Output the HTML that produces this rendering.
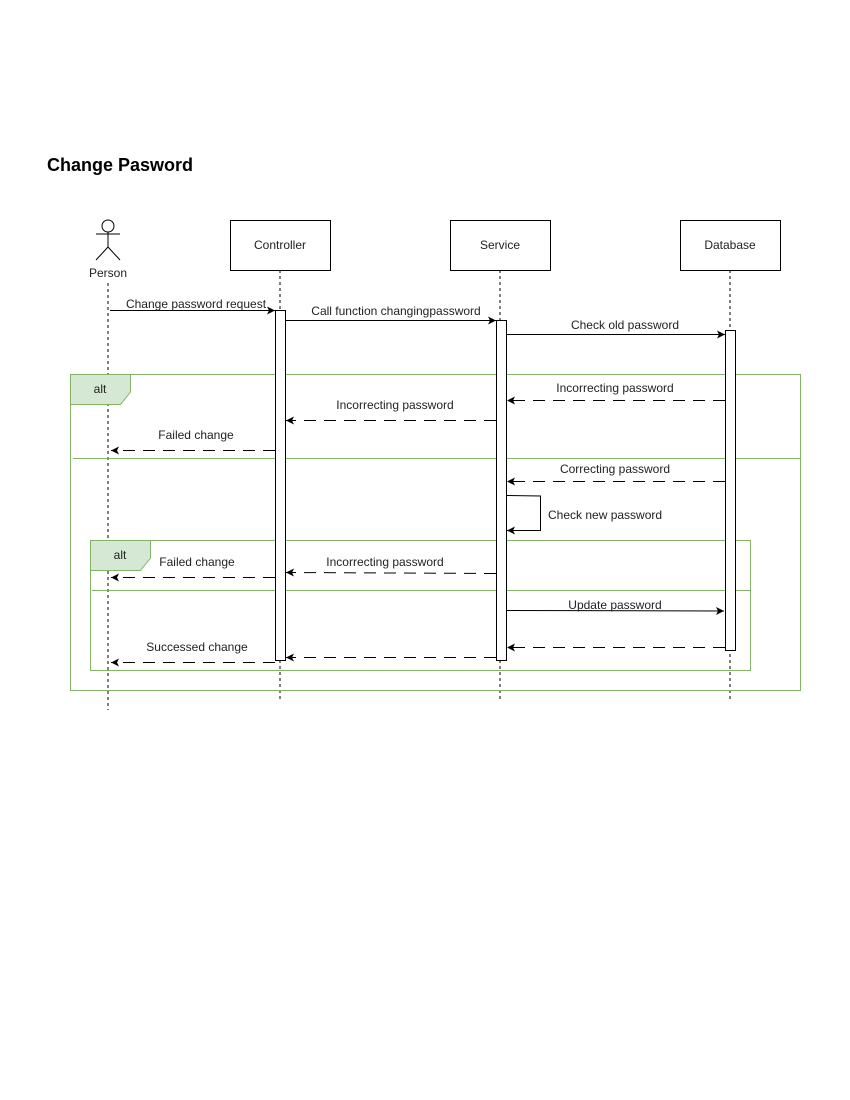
<!DOCTYPE html>
<html><head><meta charset="utf-8"><style>body{margin:0;background:#fff}svg{display:block}text{font-family:"Liberation Sans",Arial,sans-serif;font-size:12px;fill:#222}</style></head><body>
<svg width="850" height="1100" viewBox="0 0 850 1100" xmlns="http://www.w3.org/2000/svg">
<defs>
<marker id="a" markerWidth="10" markerHeight="10" refX="8" refY="4" orient="auto" markerUnits="userSpaceOnUse"><path d="M0,0 L8,4 L0,8 L2,4 z" fill="#000"/></marker>
</defs>
<text x="47" y="171" style="font-size:18px;font-weight:bold;fill:#000">Change Pasword</text>
<g stroke="#000" fill="none" stroke-width="1">
<circle cx="108" cy="226" r="6" fill="#fff"/>
<line x1="108" y1="232" x2="108" y2="247"/><line x1="96" y1="234" x2="120" y2="234"/>
<line x1="108" y1="247" x2="96" y2="260"/><line x1="108" y1="247" x2="120" y2="260"/>
</g>
<text x="108" y="277" text-anchor="middle">Person</text>
<g stroke="#000" stroke-dasharray="3,3">
<line x1="108" y1="283" x2="108" y2="710"/>
<line x1="280" y1="270" x2="280" y2="700"/>
<line x1="500" y1="270" x2="500" y2="700"/>
<line x1="730" y1="270" x2="730" y2="700"/>
</g>
<g stroke="#000" fill="#fff">
<rect x="230.5" y="220.5" width="100" height="50"/>
<rect x="450.5" y="220.5" width="100" height="50"/>
<rect x="680.5" y="220.5" width="100" height="50"/>
</g>
<text x="280" y="249" text-anchor="middle">Controller</text>
<text x="500" y="249" text-anchor="middle">Service</text>
<text x="730" y="249" text-anchor="middle">Database</text>
<g stroke="#82b366" fill="none">
<rect x="70.5" y="374.5" width="730" height="316"/>
<line x1="73" y1="458.5" x2="800" y2="458.5"/>
<rect x="90.5" y="540.5" width="660" height="130"/>
<line x1="92" y1="590.5" x2="750" y2="590.5"/>
</g>
<path d="M70.5,374.5 H130.5 V392 L120.5,404.5 H70.5 Z" fill="#d5e8d4" stroke="#82b366"/>
<path d="M90.5,540.5 H150.5 V558 L140.5,570.5 H90.5 Z" fill="#d5e8d4" stroke="#82b366"/>
<text x="100" y="393" text-anchor="middle">alt</text>
<text x="120" y="559" text-anchor="middle">alt</text>
<g stroke="#000" fill="#fff">
<rect x="275.5" y="310.5" width="10" height="350"/>
<rect x="496.5" y="320.5" width="10" height="340"/>
<rect x="725.5" y="330.5" width="10" height="320"/>
</g>
<g stroke="#000" fill="none" marker-end="url(#a)">
<line x1="110" y1="310.5" x2="275" y2="310.5"/>
<line x1="286" y1="320.5" x2="496" y2="320.5"/>
<line x1="507" y1="334.5" x2="725" y2="334.5"/>
<line x1="507" y1="610.5" x2="724" y2="611"/>
<polyline points="507,495.5 540.5,496 540.5,530.5 507,530.5"/>
</g>
<g stroke="#000" fill="none" stroke-dasharray="12,8" marker-end="url(#a)">
<line x1="725" y1="400.5" x2="507" y2="400.5"/>
<line x1="496" y1="420.5" x2="286" y2="420.5"/>
<line x1="275" y1="450.5" x2="111" y2="450.5"/>
<line x1="725" y1="481.5" x2="507" y2="481.5"/>
<line x1="496" y1="573.5" x2="286" y2="572.5"/>
<line x1="275" y1="577.5" x2="111" y2="577.5"/>
<line x1="725" y1="647.5" x2="507" y2="647.5"/>
<line x1="496" y1="657.5" x2="286" y2="657.5"/>
<line x1="275" y1="662.5" x2="111" y2="662.5"/>
</g>
<text x="196" y="308" text-anchor="middle">Change password request</text>
<text x="396" y="315" text-anchor="middle">Call function changingpassword</text>
<text x="625" y="329" text-anchor="middle">Check old password</text>
<text x="615" y="392" text-anchor="middle">Incorrecting password</text>
<text x="395" y="409" text-anchor="middle">Incorrecting password</text>
<text x="196" y="439" text-anchor="middle">Failed change</text>
<text x="615" y="473" text-anchor="middle">Correcting password</text>
<text x="548" y="519">Check new password</text>
<text x="197" y="566" text-anchor="middle">Failed change</text>
<text x="385" y="566" text-anchor="middle">Incorrecting password</text>
<text x="615" y="609" text-anchor="middle">Update password</text>
<text x="197" y="651" text-anchor="middle">Successed change</text>
</svg>
</body></html>
